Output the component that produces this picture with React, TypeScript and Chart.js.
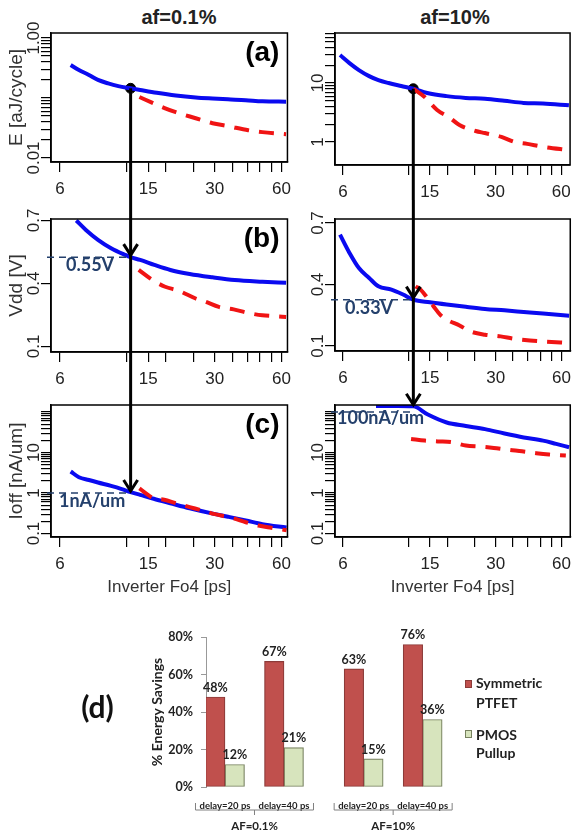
import React, { useEffect, useRef } from 'react';
import { Chart, registerables } from 'chart.js';

Chart.register(...registerables);

// ---------------- data ----------------
const xTickValues = [6, 12, 15, 18, 24, 30, 36, 42, 48, 54, 60];
const xTickLabels = ['6', '', '15', '', '', '30', '', '', '', '', '60'];

// af = 0.1 %  (left column)
const energyLowBlueX = [6.7, 7.3, 8.1, 8.9, 9.9, 11.0, 12.5, 13.8, 16.4, 20.0, 24.6, 29.3, 34.4, 41.4, 49.2, 63.0];
const energyLowBlueY = [0.355, 0.293, 0.242, 0.2, 0.175, 0.158, 0.145, 0.136, 0.122, 0.11, 0.102, 0.098, 0.095, 0.092, 0.088, 0.087];
const energyLowRedX = [13.7, 15.7, 17.8, 20.0, 24.6, 29.3, 34.4, 42.5, 49.2, 63.0];
const energyLowRedY = [0.104, 0.083, 0.068, 0.058, 0.046, 0.038, 0.034, 0.029, 0.027, 0.025];

const vddLowBlueX = [7.1, 7.85, 8.9, 10.2, 11.8, 12.5, 13.8, 16.0, 18.9, 23.1, 29.3, 36.9, 49.2, 63.0];
const vddLowBlueY = [0.70, 0.655, 0.608, 0.568, 0.536, 0.525, 0.512, 0.488, 0.464, 0.445, 0.429, 0.416, 0.408, 0.403];
const vddLowRedX = [13.6, 15.7, 17.9, 20.6, 24.6, 27.3, 31.3, 36.5, 42.5, 49.2, 55.2, 63.0];
const vddLowRedY = [0.464, 0.416, 0.384, 0.365, 0.328, 0.312, 0.288, 0.276, 0.259, 0.248, 0.244, 0.24];

const ioffLowBlueX = [6.7, 7.3, 8.1, 8.9, 10.2, 11.4, 12.5, 13.8, 15.9, 18.9, 23.1, 29.4, 34.4, 41.4, 49.2, 63.3];
const ioffLowBlueY = [3.4, 2.45, 2.1, 1.82, 1.5, 1.25, 1.05, 0.9, 0.72, 0.56, 0.42, 0.31, 0.26, 0.21, 0.17, 0.14];
const ioffLowRedX = [13.7, 15.7, 17.7, 20.0, 23.1, 26.8, 30.0, 36.1, 41.4, 47.2, 54.0, 63.3];
const ioffLowRedY = [1.3, 0.76, 0.68, 0.56, 0.45, 0.36, 0.3, 0.24, 0.19, 0.157, 0.138, 0.12];

// af = 10 %  (right column)
const energyHighBlueX = [5.82, 6.43, 7.1, 7.91, 8.72, 9.71, 11.1, 12.6, 14.6, 17.9, 21.9, 26.8, 32.9, 40.3, 49.4, 65.0];
const energyHighBlueY = [29.8, 21.8, 16.6, 13.1, 11.2, 10.0, 8.9, 8.0, 6.77, 6.0, 5.6, 5.4, 5.0, 4.6, 4.5, 4.2];
const energyHighRedX = [12.6, 14.2, 16.2, 18.5, 20.5, 24.3, 26.8, 31.9, 36.8, 41.9, 49.4, 65.0];
const energyHighRedY = [8.0, 5.8, 3.5, 2.58, 1.94, 1.54, 1.42, 1.22, 1.0, 0.93, 0.83, 0.73];

const vddHighBlueX = [5.82, 6.43, 7.1, 7.91, 8.72, 10.0, 11.3, 12.6, 15.0, 17.9, 21.9, 26.8, 32.9, 40.3, 49.4, 65.0];
const vddHighBlueY = [0.643, 0.554, 0.48, 0.432, 0.391, 0.375, 0.351, 0.326, 0.313, 0.302, 0.291, 0.281, 0.274, 0.266, 0.258, 0.248];
const vddHighRedX = [12.9, 13.6, 14.6, 15.6, 16.7, 17.9, 20.5, 23.0, 26.8, 31.6, 36.2, 43.0, 49.4, 65.0];
const vddHighRedY = [0.391, 0.375, 0.334, 0.293, 0.253, 0.229, 0.2, 0.171, 0.155, 0.147, 0.136, 0.127, 0.122, 0.115];

const ioffHighBlueX = [8.5, 10.7, 12.6, 14.6, 17.9, 21.9, 26.8, 32.9, 40.3, 49.4, 56.7, 65.0];
const ioffHighBlueY = [140, 140, 138, 88, 55, 45.3, 37.8, 29.5, 23.6, 19.7, 16.3, 13.5];
const ioffHighRedX = [12.3, 14.2, 16.3, 19.0, 21.9, 25.6, 29.4, 34.5, 39.6, 46.0, 52.7, 62.8];
const ioffHighRedY = [21.6, 19.7, 18.8, 17.9, 14.9, 14.0, 13.0, 11.6, 10.7, 9.6, 8.9, 8.4];

// selected design points (arrow)
const pickLowX = 12.5;
const pickHighX = 12.6;
const pickLowE = 0.145;
const pickHighE = 8.0;
const pickLowVdd = 0.525;
const pickHighVdd = 0.326;
const pickLowIoff = 1.0;
const pickHighIoff = 135;
const refHighIoff = 100;

// bar chart (d)
const barGroups = ['delay=20 ps', 'delay=40 ps', 'delay=20 ps', 'delay=40 ps'];
const afGroups = ['AF=0.1%', 'AF=10%'];
const symmetricPtfet = [48, 67, 63, 76];
const pmosPullup = [12, 21, 15, 36];

// ---------------- styles ----------------
const FONT = "'Liberation Sans', Arial, Helvetica, sans-serif";
const CAL = "Lato, 'Liberation Sans', sans-serif";
const BLUE = '#0a0af0';
const RED = '#f01414';
const NAVY = '#24406c';
const INK = '#222222';
const BAR_W = 19.5;
const AF_GAP = 0.35;

type Pt = { x: number; y: number };
const zip = (xs: number[], ys: number[]): Pt[] => xs.map((x, i) => ({ x, y: ys[i] }));

function logTicks(lo: number, hi: number): number[] {
  const out: number[] = [];
  for (let e = Math.floor(Math.log10(lo)); e <= Math.ceil(Math.log10(hi)); e++) {
    for (let m = 1; m <= 9; m++) {
      const v = parseFloat((m * Math.pow(10, e)).toPrecision(6));
      if (v >= lo * 0.999 && v <= hi * 1.001) out.push(v);
    }
  }
  return out;
}

interface Panel {
  left: number; top: number; w: number; h: number;
  area: { l: number; t: number; r: number; b: number };
  xMin: number; xMax: number;
  yType: 'logarithmic' | 'linear';
  yMin: number; yMax: number;
  yTicks: number[];
  yLabels: { v: number; t: string }[];
  yTitle?: string; xTitle?: string; tag?: string;
  blue: Pt[]; red: Pt[]; dot?: Pt;
  arrow: { x: number; v: number; mode: 'dot' | 'through' | 'end' };
  ref?: { v: number; text: string; dx: number; dy: number };
}

const PANELS: Panel[] = [
  {
    left: 0, top: 0, w: 298, h: 200, area: { l: 51, t: 33, r: 293, b: 162 },
    xMin: 5.46, xMax: 63.9, yType: 'logarithmic', yMin: 0.00858, yMax: 1.212,
    yTicks: logTicks(0.01, 1), yLabels: [{ v: 0.01, t: '0.01' }, { v: 1, t: '1.00' }],
    yTitle: 'E [aJ/cycle]', tag: '(a)',
    blue: zip(energyLowBlueX, energyLowBlueY), red: zip(energyLowRedX, energyLowRedY),
    dot: { x: pickLowX, y: pickLowE }, arrow: { x: pickLowX, v: pickLowE, mode: 'dot' },
  },
  {
    left: 298, top: 0, w: 280, h: 200, area: { l: 37, t: 33, r: 279, b: 165 },
    xMin: 5.52, xMax: 65.8, yType: 'logarithmic', yMin: 0.408, yMax: 70.5,
    yTicks: logTicks(1, 70), yLabels: [{ v: 1, t: '1' }, { v: 10, t: '10' }],
    blue: zip(energyHighBlueX, energyHighBlueY), red: zip(energyHighRedX, energyHighRedY),
    dot: { x: pickHighX, y: pickHighE }, arrow: { x: pickHighX, v: pickHighE, mode: 'dot' },
  },
  {
    left: 0, top: 200, w: 298, h: 192, area: { l: 51, t: 19, r: 293, b: 152 },
    xMin: 5.46, xMax: 63.9, yType: 'linear', yMin: 0.073, yMax: 0.707,
    yTicks: [0.1, 0.4, 0.7], yLabels: [{ v: 0.1, t: '0.1' }, { v: 0.4, t: '0.4' }, { v: 0.7, t: '0.7' }],
    yTitle: 'Vdd [V]', tag: '(b)',
    blue: zip(vddLowBlueX, vddLowBlueY), red: zip(vddLowRedX, vddLowRedY),
    arrow: { x: pickLowX, v: pickLowVdd, mode: 'through' },
    ref: { v: pickLowVdd, text: '0.55V', dx: 15, dy: 14 },
  },
  {
    left: 298, top: 200, w: 280, h: 192, area: { l: 37, t: 19, r: 279, b: 151 },
    xMin: 5.52, xMax: 65.8, yType: 'linear', yMin: 0.0756, yMax: 0.7195,
    yTicks: [0.1, 0.4, 0.7], yLabels: [{ v: 0.1, t: '0.1' }, { v: 0.4, t: '0.4' }, { v: 0.7, t: '0.7' }],
    blue: zip(vddHighBlueX, vddHighBlueY), red: zip(vddHighRedX, vddHighRedY),
    arrow: { x: pickHighX, v: pickHighVdd, mode: 'through' },
    ref: { v: pickHighVdd, text: '0.33V', dx: 10, dy: 14 },
  },
  {
    left: 0, top: 392, w: 298, h: 228, area: { l: 51, t: 13, r: 293, b: 145 },
    xMin: 5.46, xMax: 63.9, yType: 'logarithmic', yMin: 0.082, yMax: 149,
    yTicks: logTicks(0.1, 100), yLabels: [{ v: 0.1, t: '0.1' }, { v: 1, t: '1' }, { v: 10, t: '10' }],
    yTitle: 'Ioff [nA/um]', xTitle: 'Inverter Fo4 [ps]', tag: '(c)',
    blue: zip(ioffLowBlueX, ioffLowBlueY), red: zip(ioffLowRedX, ioffLowRedY),
    arrow: { x: pickLowX, v: pickLowIoff, mode: 'end' },
    ref: { v: pickLowIoff, text: '1nA/um', dx: 8, dy: 14 },
  },
  {
    left: 298, top: 392, w: 280, h: 228, area: { l: 37, t: 13, r: 279, b: 145 },
    xMin: 5.52, xMax: 65.8, yType: 'logarithmic', yMin: 0.082, yMax: 149,
    yTicks: logTicks(0.1, 100), yLabels: [{ v: 0.1, t: '0.1' }, { v: 1, t: '1' }, { v: 10, t: '10' }],
    xTitle: 'Inverter Fo4 [ps]',
    blue: zip(ioffHighBlueX, ioffHighBlueY), red: zip(ioffHighRedX, ioffHighRedY),
    arrow: { x: pickHighX, v: pickHighIoff, mode: 'end' },
    ref: { v: refHighIoff, text: '100nA/um', dx: 2, dy: 12 },
  },
];

function makeOverlay(p: Panel) {
  return {
    id: 'overlay',
    afterDatasetsDraw(chart: any) {
      const { ctx, chartArea: a } = chart;
      const xs = chart.scales.x;
      const ys = chart.scales.y;
      ctx.save();
      ctx.setLineDash([]);
      ctx.strokeStyle = '#000';
      ctx.lineWidth = 1.5;
      ctx.strokeRect(a.left, a.top, a.right - a.left, a.bottom - a.top);

      // rotated y tick labels
      ctx.fillStyle = INK;
      ctx.font = `17px ${FONT}`;
      ctx.textAlign = 'center';
      ctx.textBaseline = 'middle';
      for (const l of p.yLabels) {
        const y = ys.getPixelForValue(l.v);
        ctx.save();
        ctx.translate(a.left - 17, y);
        ctx.rotate(-Math.PI / 2);
        ctx.fillText(l.t, 0, 0);
        ctx.restore();
      }

      if (p.tag) {
        ctx.font = `bold 28px ${FONT}`;
        ctx.textAlign = 'right';
        ctx.textBaseline = 'middle';
        ctx.fillStyle = '#000';
        ctx.fillText(p.tag, a.right - 8, a.top + 20);
      }

      const ax = xs.getPixelForValue(p.arrow.x);
      if (p.ref) {
        const ry = ys.getPixelForValue(p.ref.v);
        ctx.strokeStyle = NAVY;
        ctx.lineWidth = 1.5;
        ctx.setLineDash([7, 5]);
        ctx.beginPath();
        ctx.moveTo(a.left - 4, ry);
        ctx.lineTo(ax, ry);
        ctx.stroke();
        ctx.setLineDash([]);
        ctx.fillStyle = NAVY;
        ctx.font = `bold 18px ${CAL}`;
        ctx.textAlign = 'left';
        ctx.textBaseline = 'alphabetic';
        ctx.fillText(p.ref.text, a.left + p.ref.dx, ry + p.ref.dy);
      }

      const ay = ys.getPixelForValue(p.arrow.v);
      ctx.strokeStyle = '#000';
      ctx.lineWidth = 3;
      ctx.lineCap = 'butt';
      ctx.lineJoin = 'miter';
      const head = (tip: number) => {
        ctx.beginPath();
        ctx.moveTo(ax - 7, tip - 11);
        ctx.lineTo(ax, tip);
        ctx.lineTo(ax + 7, tip - 11);
        ctx.stroke();
      };
      ctx.beginPath();
      if (p.arrow.mode === 'dot') {
        ctx.moveTo(ax, ay);
        ctx.lineTo(ax, chart.height);
        ctx.stroke();
      } else if (p.arrow.mode === 'through') {
        ctx.moveTo(ax, 0);
        ctx.lineTo(ax, chart.height);
        ctx.stroke();
        head(ay - 2);
      } else {
        ctx.moveTo(ax, 0);
        ctx.lineTo(ax, ay - 2);
        ctx.stroke();
        head(ay - 2);
      }
      ctx.restore();
    },
  };
}

const axisGrid = () => ({
  display: true, drawOnChartArea: false, drawTicks: true, tickLength: 10, color: '#000', lineWidth: 1.2,
});

function buildLineConfig(p: Panel): any {
  const xLabelOf = (v: number) => {
    const i = xTickValues.indexOf(v);
    return i >= 0 ? xTickLabels[i] : '';
  };
  const datasets: any[] = [
    { data: p.red, borderColor: RED, borderWidth: 4, borderDash: [15, 10], pointRadius: 0, fill: false, cubicInterpolationMode: 'monotone' },
    { data: p.blue, borderColor: BLUE, borderWidth: 4, pointRadius: 0, fill: false, cubicInterpolationMode: 'monotone' },
  ];
  if (p.dot) {
    datasets.push({ data: [p.dot], showLine: false, pointRadius: 5, pointBackgroundColor: '#000', pointBorderColor: '#000', borderColor: '#000' });
  }
  return {
    type: 'line',
    data: { datasets },
    options: {
      responsive: false,
      animation: false,
      events: [],
      layout: { padding: { left: 0, top: p.area.t, right: p.w - p.area.r, bottom: 0 } },
      plugins: { legend: { display: false }, tooltip: { enabled: false } },
      scales: {
        x: {
          type: 'logarithmic', min: p.xMin, max: p.xMax, bounds: 'data', offset: false,
          afterBuildTicks: (s: any) => { s.ticks = xTickValues.map((v) => ({ value: v })); },
          afterFit: (s: any) => { s.height = p.h - p.area.b; },
          ticks: {
            autoSkip: false, minRotation: 0, maxRotation: 0, padding: 7, color: INK,
            font: { family: FONT, size: 17 },
            callback: (v: any) => xLabelOf(Number(v)),
          },
          grid: axisGrid(),
          border: { display: true, color: '#000', width: 1.5 },
          title: p.xTitle
            ? { display: true, text: p.xTitle, color: '#333', font: { family: FONT, size: 17 }, padding: { top: 0, bottom: 22.8 } }
            : { display: false },
        },
        y: {
          type: p.yType, min: p.yMin, max: p.yMax, bounds: 'data',
          afterBuildTicks: (s: any) => { s.ticks = p.yTicks.map((v) => ({ value: v })); },
          afterFit: (s: any) => { s.width = p.area.l; },
          ticks: { display: false, autoSkip: false },
          grid: axisGrid(),
          border: { display: true, color: '#000', width: 1.5 },
          title: p.yTitle
            ? { display: true, text: p.yTitle, color: '#333', font: { family: FONT, size: 19 }, padding: { top: 5.6, bottom: 0 } }
            : { display: false },
        },
      },
    },
    plugins: [makeOverlay(p)],
  };
}

function LinePanel({ spec }: { spec: Panel }) {
  const ref = useRef<HTMLCanvasElement>(null);
  useEffect(() => {
    if (!ref.current) return;
    const chart = new Chart(ref.current, buildLineConfig(spec));
    return () => chart.destroy();
  }, [spec]);
  return (
    <canvas
      ref={ref}
      width={spec.w}
      height={spec.h}
      style={{ position: 'absolute', left: spec.left, top: spec.top, width: spec.w, height: spec.h }}
    />
  );
}

// ---------------- bar chart ----------------
const groupPos = barGroups.map((_, i) => i + (i >= 2 ? AF_GAP : 0));

const barDecor = {
  id: 'barDecor',
  afterDatasetsDraw(chart: any) {
    const { ctx } = chart;
    ctx.save();
    ctx.font = `bold 12.5px ${CAL}`;
    ctx.fillStyle = INK;
    ctx.textAlign = 'center';
    ctx.textBaseline = 'bottom';
    chart.data.datasets.forEach((ds: any, di: number) => {
      chart.getDatasetMeta(di).data.forEach((bar: any, i: number) => {
        ctx.fillText(`${ds.data[i].y}%`, bar.x, bar.y - 3);
      });
    });
    const xs = chart.scales.x;
    ctx.strokeStyle = '#808080';
    ctx.lineWidth = 1;
    afGroups.forEach((name, g) => {
      const l = xs.getPixelForValue(groupPos[g * 2]) - BAR_W - 10;
      const r = xs.getPixelForValue(groupPos[g * 2 + 1]) + BAR_W + 10;
      const m = (l + r) / 2;
      ctx.beginPath();
      ctx.moveTo(l, 183);
      ctx.lineTo(l, 190);
      ctx.lineTo(r, 190);
      ctx.lineTo(r, 183);
      ctx.moveTo(m, 190);
      ctx.lineTo(m, 195);
      ctx.stroke();
      ctx.font = `bold 11.5px ${CAL}`;
      ctx.textBaseline = 'middle';
      ctx.fillStyle = INK;
      ctx.fillText(name, m, 206);
    });
    ctx.restore();
  },
};

function BarPanel() {
  const ref = useRef<HTMLCanvasElement>(null);
  useEffect(() => {
    if (!ref.current) return;
    const cfg: any = {
      type: 'bar',
      data: {
        datasets: [
          {
            label: 'Symmetric PTFET',
            data: symmetricPtfet.map((v, i) => ({ x: groupPos[i], y: v })),
            backgroundColor: '#c0504d', borderColor: '#8c3b39', borderWidth: 1.2, borderSkipped: false,
            barThickness: BAR_W,
          },
          {
            label: 'PMOS Pullup',
            data: pmosPullup.map((v, i) => ({ x: groupPos[i], y: v })),
            backgroundColor: '#d7e4bd', borderColor: '#77815f', borderWidth: 1.2, borderSkipped: false,
            barThickness: BAR_W,
          },
        ],
      },
      options: {
        responsive: false,
        animation: false,
        events: [],
        layout: { padding: { left: 140, top: 17, right: 118, bottom: 0 } },
        plugins: { legend: { display: false }, tooltip: { enabled: false } },
        scales: {
          x: {
            type: 'linear', min: -0.322, max: 3.983, bounds: 'data', offset: false,
            afterBuildTicks: (s: any) => { s.ticks = groupPos.map((v) => ({ value: v })); },
            afterFit: (s: any) => { s.height = 48; },
            ticks: {
              autoSkip: false, minRotation: 0, maxRotation: 0, padding: 5, color: INK,
              font: { family: CAL, size: 9.5, weight: 'bold' },
              callback: (_v: any, i: number) => barGroups[i],
            },
            grid: { display: false, offset: false },
            border: { display: false },
          },
          y: {
            min: 0, max: 80,
            afterFit: (s: any) => { s.width = 66; },
            ticks: {
              stepSize: 20, padding: 8, color: INK,
              font: { family: CAL, size: 12.5, weight: 'bold' },
              callback: (v: any) => `${v}%`,
            },
            grid: { display: true, drawOnChartArea: false, drawTicks: true, tickLength: 5, color: '#999' },
            border: { display: true, color: '#999', width: 1 },
            title: {
              display: true, text: '% Energy Savings', color: INK,
              font: { family: CAL, size: 14, weight: 'bold' },
              padding: { top: 8.6, bottom: 0 },
            },
          },
        },
      },
      plugins: [barDecor],
    };
    const chart = new Chart(ref.current, cfg);
    return () => chart.destroy();
  }, []);
  return (
    <canvas
      ref={ref}
      width={578}
      height={215}
      style={{ position: 'absolute', left: 0, top: 620, width: 578, height: 215 }}
    />
  );
}

const colTitle = (cx: number): React.CSSProperties => ({
  position: 'absolute', left: cx - 100, top: 5, width: 200, textAlign: 'center',
  font: `bold 20px ${FONT}`, lineHeight: '24px', color: '#222',
});

export default function App() {
  return (
    <div style={{ position: 'absolute', left: 0, top: 0, width: 578, height: 835, background: '#fff', overflow: 'hidden' }}>
      <div style={colTitle(179)}>af=0.1%</div>
      <div style={colTitle(455)}>af=10%</div>
      {PANELS.map((p, i) => (
        <LinePanel key={i} spec={p} />
      ))}
      <BarPanel />
      <div style={{ position: 'absolute', left: 60, top: 688, width: 75, textAlign: 'center', font: `bold 30px ${CAL}`, lineHeight: '36px', color: '#111' }}>
        (d)
      </div>
      <div style={{ position: 'absolute', left: 465, top: 680, width: 7, height: 8, background: '#c0504d', border: '1px solid #8c3b39', boxSizing: 'border-box' }} />
      <div style={{ position: 'absolute', left: 476, top: 673, font: `bold 14px ${CAL}`, lineHeight: '20px', color: '#222' }}>
        Symmetric<br />PTFET
      </div>
      <div style={{ position: 'absolute', left: 465, top: 730, width: 7, height: 8, background: '#d7e4bd', border: '1px solid #77815f', boxSizing: 'border-box' }} />
      <div style={{ position: 'absolute', left: 476, top: 726, font: `bold 14px ${CAL}`, lineHeight: '18px', color: '#222' }}>
        PMOS<br />Pullup
      </div>
    </div>
  );
}
